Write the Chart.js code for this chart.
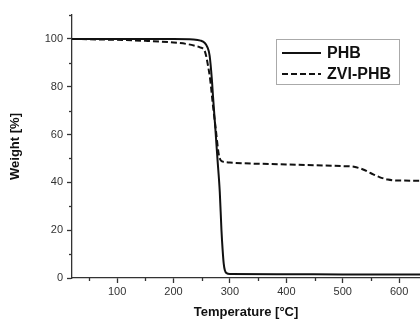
<!DOCTYPE html>
<html>
<head>
<meta charset="utf-8">
<script src="https://cdn.jsdelivr.net/npm/chart.js@4/dist/chart.umd.min.js"></script>
<style>
  html, body { margin:0; padding:0; background:#fff; }
  #wrap { width:420px; height:322px; overflow:hidden; }
</style>
</head>
<body>
<div id="wrap"><canvas id="tga" width="420" height="322"></canvas></div>
<script>
// ----------------- DATOS -----------------
const phbTemp   = [20, 100, 200, 235, 248, 255, 260, 264, 268, 270, 274, 278, 282, 285, 287, 289, 291, 294, 300, 400, 500, 637];
const phbWeight = [100, 100, 100, 99.8, 99.3, 98.4, 96.6, 93, 83, 76, 63, 49.5, 36, 20, 12, 6, 3.2, 2, 1.7, 1.6, 1.5, 1.5];

const zviTemp   = [20, 100, 150, 200, 225, 240, 247, 256, 261, 265, 270, 275, 280, 283, 286, 300, 400, 500, 520, 535, 550, 565, 580, 595, 637];
const zviWeight = [100, 99.6, 99.2, 98.5, 97.8, 97, 96.5, 94.5, 89, 83, 72, 62, 52, 49.5, 48.8, 48.3, 47.5, 46.8, 46.5, 45.5, 43.8, 42.2, 41.2, 40.8, 40.7];

const seriesNames = ['PHB', 'ZVI-PHB'];
const xTicks = [100, 200, 300, 400, 500, 600];
const xMinor = [50, 150, 250, 350, 450, 550, 650];
const yTicks = [0, 20, 40, 60, 80, 100];
const yMinor = [10, 30, 50, 70, 90, 110];

const AXIS = '#333';
const FONT = "'Liberation Sans', Arial, sans-serif";

// ----------------- TICKS MENORES -----------------
const minorTicks = {
  id: 'minorTicks',
  afterDraw(chart) {
    const c = chart.ctx, x = chart.scales.x, y = chart.scales.y;
    c.save();
    c.strokeStyle = AXIS; c.lineWidth = 1.3;
    xMinor.forEach(v => {
      if (v < x.min || v > x.max) return;
      const px = Math.round(x.getPixelForValue(v)) + 0.5;
      c.beginPath(); c.moveTo(px, x.top); c.lineTo(px, x.top + 3); c.stroke();
    });
    yMinor.forEach(v => {
      if (v < y.min || v > y.max) return;
      const py = Math.round(y.getPixelForValue(v)) + 0.5;
      c.beginPath(); c.moveTo(y.right, py); c.lineTo(y.right - 3, py); c.stroke();
    });
    c.restore();
  }
};

// ----------------- LEYENDA (dentro del area) -----------------
const boxLegend = {
  id: 'boxLegend',
  afterDraw(chart) {
    const c = chart.ctx;
    c.save();
    c.fillStyle = '#fff';
    c.fillRect(276.5, 39.5, 123, 45);
    c.strokeStyle = '#aaa'; c.lineWidth = 1;
    c.strokeRect(276.5, 39.5, 123, 45);
    chart.data.datasets.forEach((ds, i) => {
      const yy = 53 + i * 21;
      c.strokeStyle = ds.borderColor;
      c.lineWidth = ds.borderWidth;
      c.setLineDash(ds.borderDash || []);
      c.beginPath(); c.moveTo(282, yy); c.lineTo(321, yy); c.stroke();
      c.setLineDash([]);
      c.fillStyle = '#111';
      c.font = 'bold 16px ' + FONT;
      c.textBaseline = 'middle';
      c.fillText(ds.label, 327, yy + 1);
    });
    c.restore();
  }
};

// ----------------- GRAFICO -----------------
const toXY = (xs, ys) => xs.map((t, i) => ({ x: t, y: ys[i] }));

new Chart(document.getElementById('tga'), {
  type: 'line',
  data: {
    datasets: [{
      label: seriesNames[0],
      data: toXY(phbTemp, phbWeight),
      borderColor: '#111', borderWidth: 2,
      pointRadius: 0, cubicInterpolationMode: 'monotone', fill: false
    }, {
      label: seriesNames[1],
      data: toXY(zviTemp, zviWeight),
      borderColor: '#111', borderWidth: 2, borderDash: [6, 3],
      pointRadius: 0, cubicInterpolationMode: 'monotone', fill: false
    }]
  },
  options: {
    responsive: false,
    animation: false,
    layout: { padding: { top: 15, right: 0, bottom: 0, left: 0 } },
    plugins: { legend: { display: false }, tooltip: { enabled: false } },
    scales: {
      x: {
        type: 'linear', min: 20, max: 637,
        afterBuildTicks: s => { s.ticks = xTicks.map(v => ({ value: v })); },
        afterFit: s => { s.height = 44; },
        grid: { drawOnChartArea: false, drawTicks: true, tickLength: 5, tickColor: AXIS, tickWidth: 1.3 },
        border: { color: AXIS, width: 1.3 },
        ticks: { color: '#333', font: { family: FONT, size: 11 }, padding: 2, maxRotation: 0, autoSkip: false },
        title: { display: true, text: 'Temperature [°C]', color: '#111',
                 font: { family: FONT, size: 13, weight: 'bold' }, padding: { top: 0, bottom: 2 } }
      },
      y: {
        type: 'linear', min: 0, max: 110,
        afterBuildTicks: s => { s.ticks = yTicks.map(v => ({ value: v })); },
        afterFit: s => { s.width = 72; },
        grid: { drawOnChartArea: false, drawTicks: true, tickLength: 5, tickColor: AXIS, tickWidth: 1.3 },
        border: { color: AXIS, width: 1.3 },
        ticks: { color: '#333', font: { family: FONT, size: 11 }, padding: 4 },
        title: { display: true, text: 'Weight [%]', color: '#111',
                 font: { family: FONT, size: 13, weight: 'bold' }, padding: { top: 8, bottom: 0 } }
      }
    }
  },
  plugins: [minorTicks, boxLegend]
});
</script>
</body>
</html>
